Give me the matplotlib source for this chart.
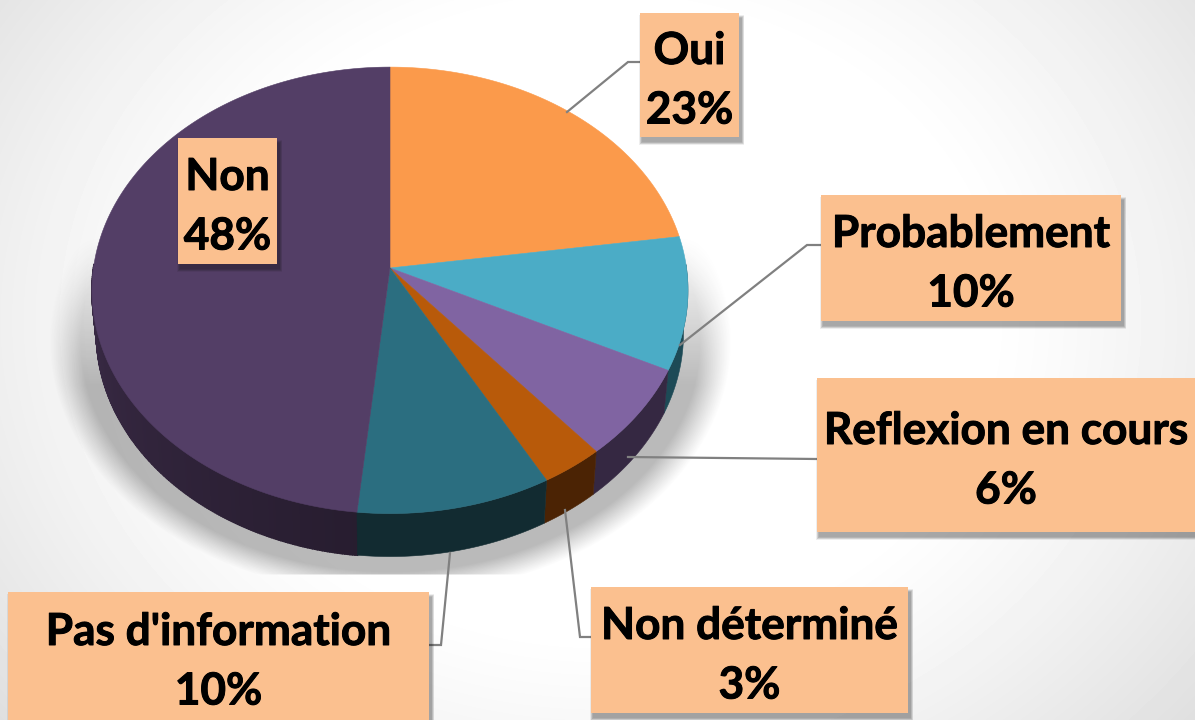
import numpy as np
import matplotlib
matplotlib.use('Agg')
import matplotlib.pyplot as plt
import matplotlib.patheffects as pe
from matplotlib.patches import Polygon, Rectangle

plt.rcParams['font.family'] = ['Lato', 'DejaVu Sans']

# data
labels = ['Oui', 'Probablement', 'Reflexion en cours', 'Non déterminé', "Pas d'information", 'Non']
percents = [23, 10, 6, 3, 10, 48]  # as printed
shares = [22.7, 9.6, 6.6, 3.1, 9.6, 48.4]
top_colors = ['#FB9A4B', '#4BACC6', '#8064A2', '#B85A0A', '#2B6E80', '#533E66']
side_colors = ['#A8602A', '#1D4A56', '#352842', '#4B2304', '#122B31', '#352740']

# label boxes: left, top, right, bottom in pixels
boxes = [(640, 13, 739, 137), (821, 195, 1121, 321), (817, 378, 1195, 532),
         (591, 587, 908, 713), (8, 592, 429, 720), (178, 138, 277, 264)]
# leader lines (none for the last label, it sits on the slice)
leaders = [[(567, 112), (628, 62), (640, 62)],
           [(680, 345), (807, 245), (821, 245)],
           [(628, 457), (817, 459)],
           [(565, 510), (580, 637), (591, 637)],
           [(450, 553), (441, 645), (429, 645)]]

W, H = 1195, 720
cx, cy = 390, 268
rx, ry = 296.5, 221
persp = 0.1
depth = 43

def rim(a):
    # a is clockwise from 12 o'clock, circle seen in perspective
    X, Y = np.sin(a), np.cos(a)
    w = 1 + persp * Y
    return cx + rx * X / w, cy - ry * Y / w

fig = plt.figure(figsize=(W / 100, H / 100), dpi=100)
ax = fig.add_axes([0, 0, 1, 1])

# background
yy, xx = np.mgrid[0:H, 0:W]
d = np.sqrt(((xx - 600) / 760) ** 2 + ((yy - 320) / 620) ** 2)
bg = 1 - 0.15 * np.clip((d - 0.5) / 0.6, 0, 1) ** 1.2
ax.imshow(bg, cmap='gray', vmin=0, vmax=1, extent=(0, W, H, 0), zorder=0, aspect='auto')

# soft shadow below the pie
e = np.sqrt(((xx - 390) / 316) ** 2 + ((yy - 340) / 236) ** 2)
alpha = 0.34 * np.clip((1.08 - e) / 0.10, 0, 1) ** 1.1
alpha = alpha * np.clip((yy - 235) / 150, 0, 1) * np.clip((575 - yy) / 2, 0, 1)
sh = np.zeros((H, W, 4))
sh[..., :3] = 0.2
sh[..., 3] = alpha
ax.imshow(sh, extent=(0, W, H, 0), zorder=1, aspect='auto')
ax.set_xlim(0, W)
ax.set_ylim(H, 0)
ax.axis('off')

# pie
edges = np.cumsum([0] + shares) / sum(shares) * 2 * np.pi
for i in range(len(shares)):
    a = np.linspace(edges[i], edges[i + 1], max(8, int(shares[i] * 8)))
    x, y = rim(a)
    # side wall, only where the rim faces the viewer
    vis = np.cos(a) < 0.02
    if vis.sum() < 2:
        continue
    xv, yv = x[vis], y[vis]
    xl = cx + (xv - cx) * 0.985
    yl = yv + depth
    base = np.array(matplotlib.colors.to_rgb(side_colors[i]))
    if labels[i] == 'Non':
        # side of the big slice darkens towards the front
        n = len(xv) - 1
        for j in range(n):
            quad = [(xv[j], yv[j]), (xv[j + 1], yv[j + 1]), (xl[j + 1], yl[j + 1]), (xl[j], yl[j])]
            c = np.clip(base * (0.74 + 0.36 * j / n), 0, 1)
            ax.add_patch(Polygon(quad, closed=True, fc=c, ec=c, lw=1.2, zorder=2))
    else:
        pts = list(zip(xv, yv)) + list(zip(xl[::-1], yl[::-1]))
        ax.add_patch(Polygon(pts, closed=True, fc=base, ec=base, lw=0.4, zorder=2.5))

for i in range(len(shares)):
    a = np.linspace(edges[i], edges[i + 1], max(8, int(shares[i] * 8)))
    x, y = rim(a)
    pts = [(cx, cy)] + list(zip(x, y))
    ax.add_patch(Polygon(pts, closed=True, fc=top_colors[i], ec=top_colors[i], lw=0.4, zorder=3))

# leaders
for pts in leaders:
    ax.plot([p[0] for p in pts], [p[1] for p in pts], color='#808080', lw=1.6, zorder=4,
            solid_joinstyle='miter')

# labels
bold = [pe.withStroke(linewidth=0.7, foreground='black')]
for name, v, b in zip(labels, percents, boxes):
    l, t, r, bt = b
    for k in range(6):
        ax.add_patch(Rectangle((l + 2 - k * 0.5, t + 5 - k * 0.6), r - l + 1 + k * 1.0, bt - t + k * 1.2,
                               fc='#101010', ec='none', alpha=0.07, zorder=5))
    ax.add_patch(Rectangle((l, t), r - l, bt - t, fc='#FBC08F', ec='none', zorder=6))
    xm = (l + r) / 2
    ym = (t + bt) / 2
    for txt, off in ((name, -24), ('%d%%' % v, 35.5)):
        ax.text(xm, ym + off, txt, ha='center', va='center', fontsize=31.8, fontweight='bold',
                color='black', zorder=7, path_effects=bold)

fig.savefig('out.png', dpi=100)
